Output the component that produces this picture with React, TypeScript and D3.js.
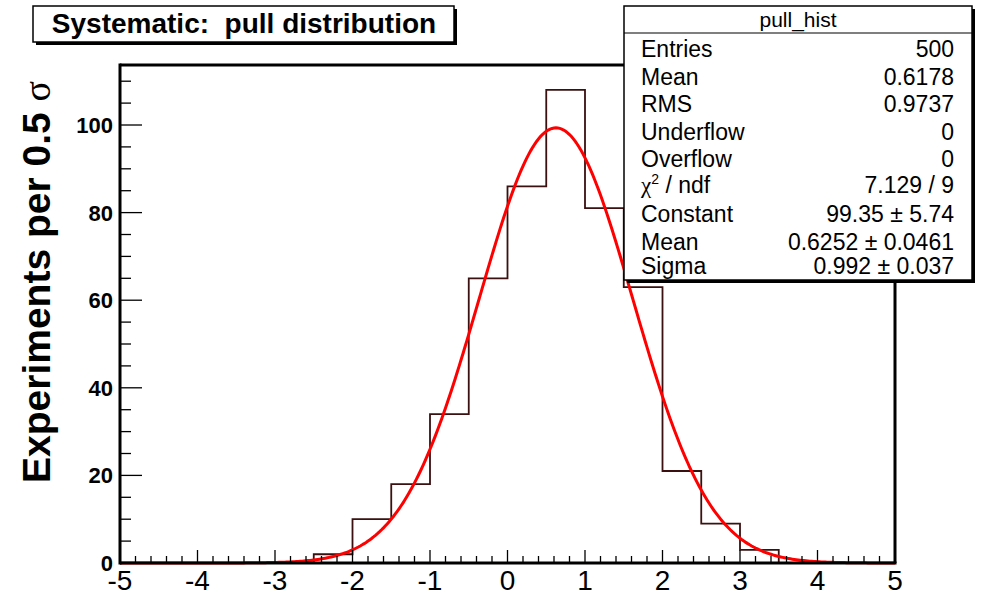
import React from 'react';
import * as d3 from 'd3';

// ---- data ----
const binLowEdges = [-5, -4.5, -4, -3.5, -3, -2.5, -2, -1.5, -1, -0.5, 0, 0.5, 1, 1.5, 2, 2.5, 3, 3.5, 4, 4.5];
const binWidth = 0.5;
const binCounts = [0, 0, 0, 0, 0, 2, 10, 18, 34, 65, 86, 108, 81, 63, 21, 9, 3, 0, 0, 0];
const xTickValues = [-5, -4, -3, -2, -1, 0, 1, 2, 3, 4, 5];
const yTickValues = [0, 20, 40, 60, 80, 100];
const fitConstant = 99.35;
const fitMean = 0.6252;
const fitSigma = 0.992;
const statLabels = ['Entries', 'Mean', 'RMS', 'Underflow', 'Overflow', 'CHI', 'Constant', 'Mean', 'Sigma'];
const statValues = ['500', '0.6178', '0.9737', '0', '0', '7.129 / 9', '99.35 \u00b1 5.74', '0.6252 \u00b1 0.0461', '0.992 \u00b1 0.037'];
const titleText = 'Systematic:  pull distribution';
const histName = 'pull_hist';
const yTitle = 'Experiments per 0.5 ';

const W = 987;
const H = 593;
const L = 120, R = 895, T = 65, B = 563;
const FONT = 'Liberation Sans, Arial, Helvetica, sans-serif';

export default function App() {
  const x = d3.scaleLinear().domain([-5, 5]).range([L, R]);
  const y = d3.scaleLinear().domain([0, 113.7]).range([B, T]);

  // histogram step contour
  const pts: [number, number][] = [[-5, 0]];
  binLowEdges.forEach((lo, i) => {
    pts.push([lo, binCounts[i]]);
    pts.push([lo + binWidth, binCounts[i]]);
  });
  pts.push([5, 0]);
  const histPath = d3.line<[number, number]>().x(d => x(d[0])).y(d => y(d[1]))(pts) || '';

  // fit function drawn from its displayed parameters
  const fx = d3.range(0, 401).map(i => -5 + (10 * i) / 400);
  const fitPath = d3
    .line<number>()
    .x(d => x(d))
    .y(d => y(fitConstant * Math.exp(-0.5 * Math.pow((d - fitMean) / fitSigma, 2))))
    .curve(d3.curveLinear)(fx) || '';

  const xMinor = d3.range(0, 51).map(i => -5 + i * 0.2);
  const yMinor = d3.range(0, 23).map(i => i * 5);

  const statX = 624, statY = 6, statW = 348, statH = 274;
  const rowBase = [57, 85, 112, 140, 167, 193, 222, 250, 274];

  return (
    <div style={{ position: 'fixed', left: 0, top: 0, width: W, height: H, background: '#fff' }}>
      <svg width={W} height={H} style={{ display: 'block' }}>
        <rect x={0} y={0} width={W} height={H} fill="#fff" />
        {/* histogram */}
        <path d={histPath} fill="none" stroke="#3a1010" strokeWidth={1.8} />
        {/* fit */}
        <path d={fitPath} fill="none" stroke="#ff0000" strokeWidth={3} />
        {/* frame */}
        <line x1={L} y1={T} x2={R} y2={T} stroke="#000" strokeWidth={3} />
        <line x1={R} y1={T} x2={R} y2={B} stroke="#000" strokeWidth={3} />
        <line x1={L} y1={T - 1.5} x2={L} y2={B + 1.5} stroke="#000" strokeWidth={3} />
        <line x1={L} y1={B} x2={R + 1.5} y2={B} stroke="#000" strokeWidth={3} />
        {/* x ticks */}
        {xMinor.map((v, i) => (
          <line key={'xm' + i} x1={x(v)} x2={x(v)} y1={B} y2={B - (i % 5 === 0 ? 13 : 7)} stroke="#000" strokeWidth={1.3} />
        ))}
        {xTickValues.map(v => (
          <text key={'xt' + v} x={x(v)} y={590} textAnchor="middle" fontFamily={FONT} fontSize={28} fill="#000">
            {v}
          </text>
        ))}
        {/* y ticks */}
        {yMinor.filter(v => y(v) >= T + 2).map((v, i) => (
          <line key={'ym' + i} x1={L} x2={L + (v % 20 === 0 ? 22 : 11)} y1={y(v)} y2={y(v)} stroke="#000" strokeWidth={1.3} />
        ))}
        {yTickValues.map(v => (
          <text key={'yt' + v} x={113} y={y(v) + 8} textAnchor="end" fontFamily={FONT} fontWeight="bold" fontSize={22} fill="#000">
            {v}
          </text>
        ))}
        {/* y title */}
        <text transform="translate(50,483) rotate(-90)" fontFamily={FONT} fontWeight="bold" fontSize={39} fill="#000">
          {yTitle}
          <tspan fontFamily="Liberation Serif, DejaVu Serif, serif" fontWeight="normal" fontSize={38}>σ</tspan>
        </text>
        {/* title box */}
        <rect x={36} y={9} width={421} height={36} fill="#000" />
        <rect x={33} y={6} width={421} height={36} fill="#fff" stroke="#000" strokeWidth={1.5} />
        <text x={244} y={33} textAnchor="middle" fontFamily={FONT} fontWeight="bold" fontSize={28} fill="#000" style={{ whiteSpace: 'pre' }}>
          {titleText}
        </text>
        {/* stat box */}
        <rect x={statX + 3} y={statY + 3} width={statW} height={statH} fill="#000" />
        <rect x={statX} y={statY} width={statW} height={statH} fill="#fff" stroke="#000" strokeWidth={1.5} />
        <line x1={statX} x2={statX + statW} y1={33} y2={33} stroke="#000" strokeWidth={1.2} />
        <text x={statX + statW / 2} y={27} textAnchor="middle" fontFamily={FONT} fontSize={21} fill="#000">
          {histName}
        </text>
        {statLabels.map((lab, i) => (
          <g key={'st' + i}>
            <text x={641} y={rowBase[i]} fontFamily={FONT} fontSize={23} fill="#000">
              {lab === 'CHI' ? (
                <>
                  <tspan fontFamily="Liberation Serif, DejaVu Serif, serif">χ</tspan>
                  <tspan fontSize={14} dy={-9}>2</tspan>
                  <tspan dy={9}> / ndf</tspan>
                </>
              ) : (
                lab
              )}
            </text>
            <text x={954} y={rowBase[i]} textAnchor="end" fontFamily={FONT} fontSize={23} fill="#000">
              {statValues[i]}
            </text>
          </g>
        ))}
      </svg>
    </div>
  );
}
